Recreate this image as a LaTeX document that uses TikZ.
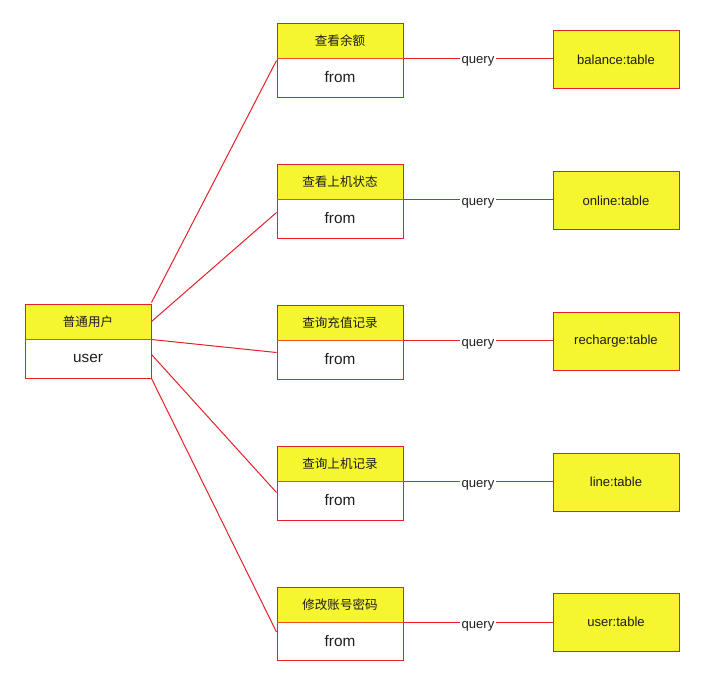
\documentclass[tikz,border=0pt]{standalone}
\usepackage{fontspec}
\setmainfont{Liberation Sans}
\newfontfamily\cjk{Noto Sans CJK SC}
\usetikzlibrary{calc}
\definecolor{lr}{RGB}{228,32,40}
\definecolor{by}{RGB}{245,245,48}
\definecolor{hl}{RGB}{240,80,30}
\definecolor{tx}{RGB}{30,30,30}
\begin{document}
\begin{tikzpicture}[x=0.75pt,y=-0.75pt,
  hdr/.style={draw=lr, fill=by, text=tx, line width=0.75pt, minimum width=94.5pt, minimum height=26.25pt, inner sep=0pt, font=\cjk\fontsize{9.4}{11}\selectfont},
  bdy/.style={draw=lr, fill=white, text=tx, line width=0.75pt, minimum width=94.5pt, minimum height=29.25pt, inner sep=0pt, font=\fontsize{11.5}{13}\selectfont},
  tbl/.style={draw=lr, fill=by, text=tx, line width=0.75pt, minimum width=94.5pt, minimum height=43.5pt, inner sep=0pt, font=\fontsize{9.8}{12}\selectfont},
  link/.style={draw=lr, line width=0.75pt},
  qlab/.style={fill=white, text=tx, inner sep=1pt, yshift=-2.5pt, font=\fontsize{9.8}{12}\selectfont}]
\useasboundingbox (0,0) rectangle (703,683);
% user box
\node[bdy] (ub) at (88,358.5) {user};
\node[hdr] (uh) at (88,321.5) {普通用户};
\draw[hl, line width=0.75pt] (uh.south west) -- (uh.south east);
% function boxes and tables
\foreach \i/\hy/\by/\ty/\txt/\tab in {1/40.5/77.5/59.5/查看余额/balance,2/181.5/218.5/200.5/查看上机状态/online,3/322.5/359.5/341/查询充值记录/recharge,4/463.5/500.5/482/查询上机记录/line,5/604.5/641/622/修改账号密码/user}{
  \node[bdy] (b\i) at (340,\by) {from};
  \node[hdr] (h\i) at (340,\hy) {\txt};
  \draw[hl, line width=0.75pt] (h\i.south west) -- (h\i.south east);
  \node[tbl] (t\i) at (616,\ty) {\tab:table};
  \draw[link] (h\i.south east) -- (h\i.south east -| t\i.west) node[qlab, midway] (q\i) {query};
}
% connector end points
\coordinate (u1) at ($(uh.north east)+(0,-1)$);
\coordinate (u2) at ($(uh.north east)+(0,18)$);
\coordinate (u3) at (uh.south east);
\coordinate (u4) at ($(ub.north east)+(0,16)$);
\coordinate (u5) at (ub.south east);
\coordinate (f1) at ($(b1.north west)+(0,3)$);
\coordinate (f2) at ($(b2.north west)+(0,14)$);
\coordinate (f3) at ($(b3.north west)+(0,13)$);
\coordinate (f4) at ($(b4.north west)+(0,12)$);
\coordinate (f5) at ($(b5.north west)+(0,11)$);
\foreach \i in {1,...,5}{\draw[link] (u\i) -- (f\i);}
\end{tikzpicture}
\end{document}
